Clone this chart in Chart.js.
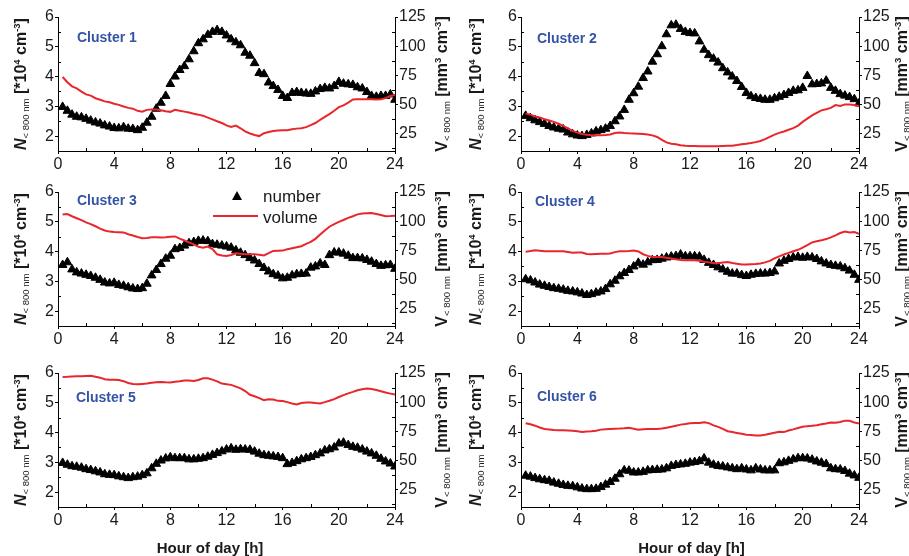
<!DOCTYPE html>
<html><head><meta charset="utf-8">
<script src="https://cdn.jsdelivr.net/npm/chart.js@4/dist/chart.umd.min.js"></script>
<style>
html,body{margin:0;padding:0;background:#fff;width:909px;height:556px;overflow:hidden;font-family:"Liberation Sans",Arial,sans-serif;}
#fig{position:relative;width:909px;height:556px;overflow:hidden;}
.cv{position:absolute;}
.lbl{position:absolute;white-space:nowrap;color:#1a1a1a;line-height:1;}
.ytitle{font-weight:bold;font-size:16px;transform:translate(-50%,-50%) rotate(-90deg);}
.ytitle sub,.ytitle sup{font-size:9.5px;line-height:1;}
.ytitle sub{font-weight:normal;vertical-align:-0.3em;}
.ytitle sup{vertical-align:0.6em;}
.cluster{font-weight:bold;font-size:14px;color:#3453a6;transform:translateY(-50%);}
.xtitle{font-weight:bold;font-size:15px;transform:translate(-50%,-50%);}
.leg{font-size:17px;transform:translateY(-50%);}
</style></head>
<body>
<div id="fig"></div>
<script>
// ---------- data ----------
const hours = [0.33,0.67,1,1.33,1.67,2, 2.33,2.67,3,3.33,3.67,4, 4.33,4.67,5,5.33,5.67,6,
  6.33,6.67,7,7.33,7.67,8, 8.33,8.67,9,9.33,9.67,10, 10.33,10.67,11,11.33,11.67,12,
  12.33,12.67,13,13.33,13.67,14, 14.33,14.67,15,15.33,15.67,16, 16.33,16.67,17,17.33,17.67,18,
  18.33,18.67,19,19.33,19.67,20, 20.33,20.67,21,21.33,21.67,22, 22.33,22.67,23,23.33,23.67,24];

const xTicks = [0,4,8,12,16,20,24];
const xMinor = [2,6,10,14,18,22];
const nTicks = [2,3,4,5,6];
const nMinor = [2.5,3.5,4.5,5.5];
const vTicks = [25,50,75,100,125];
const vMinor = [12.5,37.5,62.5,87.5,112.5];
const clusterNames = ["Cluster 1","Cluster 2","Cluster 3","Cluster 4","Cluster 5","Cluster 6"];
const seriesNames = ["number","volume"];

const c1Number = [2.98,2.85,2.72,2.65,2.63,2.58, 2.52,2.46,2.42,2.36,2.32,2.27, 2.26,2.3,2.25,2.24,2.2,2.28,
  2.45,2.65,2.92,3.12,3.35,3.75, 4.0,4.22,4.35,4.58,4.85,5.12, 5.25,5.4,5.5,5.56,5.5,5.38,
  5.25,5.15,5.05,4.8,4.7,4.45, 4.12,4.08,3.8,3.68,3.55,3.35, 3.28,3.45,3.48,3.45,3.43,3.42,
  3.5,3.58,3.62,3.6,3.68,3.82, 3.76,3.74,3.72,3.64,3.6,3.48, 3.35,3.32,3.35,3.35,3.4,3.22];
const c1Volume = [73.5,69,65.5,63.8,61,58.6, 57.5,55.3,54,52.6,51.8,50.6, 49.6,48.2,47,46.3,44.5,43.8,
  45.3,45.6,45.6,45,44.2,43.6, 45.4,44.5,43.8,43,42,41.2, 40.3,38.6,37.1,35.5,34,32,
  30.7,31.8,29.5,26.8,25,23.8, 22.8,25.3,26.3,27.1,27.6,27.9, 27.9,28.6,29.2,29.5,30.5,32.2,
  34,36.8,39.2,41.6,44.5,47.6, 49.2,51.5,54.2,54.5,54.5,54.5, 54.4,54.2,54.4,55.4,57.2,58];

const c2Number = [2.68,2.6,2.53,2.47,2.41,2.34, 2.29,2.25,2.22,2.12,2.06,2.02, 2.0,2.04,2.09,2.16,2.2,2.25,
  2.34,2.5,2.66,2.88,3.22,3.44, 3.66,3.95,4.17,4.5,4.75,5.02, 5.42,5.72,5.74,5.6,5.5,5.46,
  5.45,5.18,4.9,4.72,4.6,4.47, 4.28,4.14,4.0,3.85,3.65,3.45, 3.34,3.28,3.25,3.22,3.22,3.27,
  3.32,3.38,3.45,3.52,3.54,3.62, 4.02,3.74,3.75,3.77,3.86,3.62, 3.52,3.41,3.36,3.31,3.24,3.1];
const c2Volume = [42.2,41.2,39.6,38.8,37.2,36.1, 35,33.4,31.5,29.5,27.2,25.8, 24.6,24,23.5,23.5,23.5,23.8,
  24.2,25.4,25.9,25.5,25.2,25.1, 24.8,24.5,24.2,23.4,22,19.5, 17.4,16.3,15.8,15,14.5,14.3,
  14.2,14.1,14,14,14,14, 14.2,14.4,14.6,15.1,15.8,16.2, 16.8,17.6,18.6,20.2,22.2,24,
  25.6,26.8,28.2,29.6,31.8,35, 37.8,40.6,42.8,44.9,45.8,47, 49.4,48.6,50,50,49.4,48.3];

const c3Number = [3.55,3.64,3.4,3.3,3.26,3.22, 3.18,3.12,3.05,2.96,2.93,2.95, 2.88,2.85,2.8,2.76,2.74,2.77,
  2.92,3.2,3.38,3.58,3.76,3.86, 4.08,4.12,4.2,4.28,4.32,4.36, 4.37,4.35,4.25,4.23,4.2,4.17,
  4.13,4.04,3.96,3.88,3.78,3.7, 3.58,3.45,3.33,3.24,3.19,3.1, 3.12,3.2,3.24,3.25,3.26,3.46,
  3.5,3.6,3.55,3.88,3.97,3.97, 3.93,3.86,3.78,3.78,3.77,3.72, 3.66,3.58,3.52,3.54,3.55,3.42];
const c3Volume = [105.6,106.1,104.2,102.5,100.8,98.9, 97.4,95.6,93.6,92,91,90.6, 90.5,90.3,88.8,87.6,86.4,85.4,
  85.6,86.2,86.1,86,86.2,86.6, 86.9,85,83.4,81.8,80,78, 77.2,78.2,76,71.5,70.5,70,
  71,72.4,72,71.6,71.6,71.6, 71.2,70.6,72.5,74.4,74.6,74.7, 75.8,76.7,77.6,78.5,80.5,82.2,
  84.8,88.5,92,95.2,97.5,99.4, 101,102.8,104.2,105.8,106.5,106.8, 106.9,106.2,105.2,104.2,104.3,104.6];

const c4Number = [3.07,3.03,2.96,2.89,2.85,2.81, 2.77,2.75,2.72,2.68,2.66,2.63, 2.59,2.54,2.57,2.62,2.66,2.74,
  2.9,3.02,3.17,3.28,3.38,3.5, 3.62,3.56,3.64,3.71,3.72,3.76, 3.8,3.83,3.85,3.9,3.84,3.84,
  3.84,3.83,3.72,3.62,3.55,3.47, 3.4,3.32,3.26,3.26,3.21,3.18, 3.22,3.25,3.26,3.26,3.28,3.33,
  3.6,3.69,3.75,3.8,3.82,3.79, 3.82,3.8,3.75,3.67,3.6,3.55, 3.52,3.5,3.44,3.36,3.22,3.05];
const c4Volume = [73.8,74.3,74.9,74.5,74.1,74.1, 74.1,74.1,74.1,73.5,72.9,73, 73,71.8,71.6,71.8,72,72,
  72.3,73.4,74.1,74.2,74.4,74.8, 74,71.6,70.2,69.3,69.3,69.3, 68.6,68,67.3,66.6,66.5,66.5,
  66.5,66,65.2,64.6,63.9,63.8, 64.5,65,64,63.5,62.7,62.7, 63,63.2,63.7,64.6,65.9,68,
  69.8,71.4,72.8,74.2,75.4,77.2, 79.4,81.8,82.8,83.5,84.6,86, 87.8,89.8,91,90.2,90.6,89.2];

const c5Number = [2.98,2.92,2.87,2.85,2.82,2.77, 2.74,2.7,2.66,2.6,2.58,2.57, 2.53,2.5,2.47,2.5,2.52,2.57,
  2.63,2.8,2.95,3.06,3.13,3.17, 3.14,3.14,3.14,3.1,3.1,3.12, 3.14,3.19,3.25,3.31,3.37,3.43,
  3.47,3.42,3.44,3.43,3.42,3.36, 3.29,3.24,3.22,3.2,3.18,3.14, 2.94,2.98,3.04,3.1,3.14,3.18,
  3.24,3.3,3.4,3.44,3.5,3.63, 3.66,3.58,3.52,3.49,3.43,3.36, 3.3,3.22,3.12,3.03,2.96,2.86];
const c5Volume = [121.6,121.8,122.1,122.2,122.2,122.4, 122.6,121.8,121,119.6,119.3,119.3, 119,118,116.4,115.5,115.3,115.6,
  115.9,116.6,117.1,117.3,117,116.8, 117.4,117.9,118.5,118.5,118.1,119, 120.5,120.4,119.3,117.8,115.9,115.4,
  114.8,113.3,111.8,109.5,106.3,105, 103.5,101.7,102.4,102.3,101.1,100.9, 100,98.8,98,99.3,99.7,99.6,
  99.2,98.9,100,101.2,102.6,104.4, 106,107.5,108.8,110.2,111.1,111.6, 111.2,110.4,109.4,108.2,107.3,106.5];

const c6Number = [2.55,2.52,2.47,2.43,2.4,2.38, 2.32,2.28,2.24,2.21,2.2,2.16, 2.12,2.1,2.1,2.11,2.17,2.25,
  2.34,2.45,2.6,2.73,2.72,2.66, 2.66,2.68,2.73,2.74,2.75,2.76, 2.8,2.88,2.91,2.93,2.95,2.99,
  3.01,3.04,3.13,2.99,2.92,2.88, 2.86,2.83,2.8,2.77,2.8,2.76, 2.73,2.8,2.76,2.73,2.73,2.73,
  2.97,3.0,3.05,3.1,3.14,3.14, 3.13,3.09,3.03,2.99,2.94,2.8, 2.77,2.76,2.71,2.62,2.56,2.48];
const c6Volume = [81.9,81,79.8,78.2,77,76.6, 76,75.8,75.8,75.7,75.5,75, 74.4,74.7,75,75.4,76.4,76.8,
  77,77.2,77.3,77.5,77.9,77.2, 76.4,76.8,77,77,77,77.3, 78,78.9,79.8,80.7,81.2,81.8,
  82.1,82.1,82.8,82,80,78.8, 77,75,74.3,73.6,72.8,72.1, 71.8,71.3,71.4,72,72.9,73.8,
  74.6,74.3,75.6,76.6,77.8,78.8, 79.4,79.7,80.2,81,81.7,82.6, 82.4,83,84.1,84,82.5,81.6];

const numberSeries = [c1Number,c2Number,c3Number,c4Number,c5Number,c6Number];
const volumeSeries = [c1Volume,c2Volume,c3Volume,c4Volume,c5Volume,c6Volume];

// ---------- layout (pixel geometry, not data) ----------
const layout = [
  {cx:0,  cy:0,   cw:455, ch:175, L:58,  R:395, T:17,  B:151},
  {cx:455,cy:0,   cw:454, ch:175, L:521, R:859, T:17,  B:151},
  {cx:0,  cy:175, cw:455, ch:175, L:58,  R:395, T:192, B:326},
  {cx:455,cy:175, cw:454, ch:175, L:521, R:859, T:192, B:326},
  {cx:0,  cy:350, cw:455, ch:206, L:58,  R:395, T:373, B:507},
  {cx:455,cy:350, cw:454, ch:206, L:521, R:859, T:373, B:507}
];
const RED = '#e8262b';
const TXT = '#1a1a1a';
const tickFont = {family:'"Liberation Sans", Arial, sans-serif', size:16};

const minorTicks = {
  id:'minorTicks',
  afterDraw(chart){
    const {ctx, chartArea:a, scales} = chart;
    ctx.save(); ctx.strokeStyle='#000'; ctx.lineWidth=1; ctx.beginPath();
    xMinor.forEach(v=>{const x=Math.round(scales.x.getPixelForValue(v))+0.5; ctx.moveTo(x,a.bottom); ctx.lineTo(x,a.bottom-3);});
    nMinor.forEach(v=>{const y=Math.round(scales.y.getPixelForValue(v))+0.5; ctx.moveTo(a.left,y); ctx.lineTo(a.left+3,y);});
    vMinor.forEach(v=>{const y=Math.round(scales.y1.getPixelForValue(v))+0.5; ctx.moveTo(a.right,y); ctx.lineTo(a.right-3,y);});
    ctx.stroke(); ctx.restore();
  }
};

const fig = document.getElementById('fig');
function addLabel(html, cls, x, y){
  const d = document.createElement('div');
  d.className = 'lbl ' + cls; d.innerHTML = html;
  d.style.left = x + 'px'; d.style.top = y + 'px';
  fig.appendChild(d); return d;
}

layout.forEach((p, i) => {
  const c = document.createElement('canvas');
  c.className = 'cv'; c.width = p.cw; c.height = p.ch;
  c.style.left = p.cx + 'px'; c.style.top = p.cy + 'px';
  c.style.width = p.cw + 'px'; c.style.height = p.ch + 'px';
  fig.appendChild(c);
  const leftW = p.L - p.cx, rightW = p.cx + p.cw - p.R, botH = p.cy + p.ch - p.B, topPad = p.T - p.cy;
  const axisGrid = {drawOnChartArea:false, tickLength:3, color:'#000', tickColor:'#000', lineWidth:1};
  const axisBorder = {display:true, color:'#000', width:1};
  new Chart(c, {
    type:'line',
    data:{datasets:[
      {label:seriesNames[1], data:hours.map((h,k)=>({x:h,y:volumeSeries[i][k]})), yAxisID:'y1',
       borderColor:RED, backgroundColor:RED, borderWidth:2, pointRadius:0, fill:false, tension:0, order:0},
      {label:seriesNames[0], data:hours.map((h,k)=>({x:h,y:numberSeries[i][k]})), yAxisID:'y',
       showLine:false, pointStyle:'triangle', pointRadius:5, pointBackgroundColor:'#000',
       pointBorderColor:'#000', pointBorderWidth:1, order:1}
    ]},
    options:{
      responsive:false, animation:false, devicePixelRatio:1,
      layout:{padding:{top:topPad, left:0, right:0, bottom:0}},
      plugins:{legend:{display:false}, tooltip:{enabled:false}},
      scales:{
        x:{type:'linear', min:0, max:24,
           afterBuildTicks:s=>{s.ticks = xTicks.map(v=>({value:v}));},
           afterFit:s=>{s.height = botH;},
           ticks:{font:tickFont, color:TXT, padding:1, maxRotation:0, autoSkip:false},
           grid:axisGrid, border:axisBorder},
        y:{type:'linear', position:'left', min:1.5, max:6,
           afterBuildTicks:s=>{s.ticks = nTicks.map(v=>({value:v}));},
           afterFit:s=>{s.width = leftW;},
           ticks:{font:tickFont, color:TXT, padding:1},
           grid:axisGrid, border:axisBorder},
        y1:{type:'linear', position:'right', min:10, max:125,
           afterBuildTicks:s=>{s.ticks = vTicks.map(v=>({value:v}));},
           afterFit:s=>{s.width = rightW;},
           ticks:{font:tickFont, color:TXT, padding:1},
           grid:axisGrid, border:axisBorder}
      }
    },
    plugins:[minorTicks]
  });
});

// ---------- text ----------
const nTitle = '<i>N</i><sub>&lt; 800 nm</sub> [*10<sup>4</sup> cm<sup>-3</sup>]';
const vTitle = 'V<sub>&lt; 800 nm</sub> [mm<sup>3</sup> cm<sup>-3</sup>]';
const rowMid = [84, 259, 440];
[0,1,2].forEach(r=>{
  addLabel(nTitle,'ytitle',20.5,rowMid[r]);
  addLabel(vTitle,'ytitle',442,rowMid[r]);
  addLabel(nTitle,'ytitle',476,rowMid[r]);
  addLabel(vTitle,'ytitle',902,rowMid[r]);
});
const clusterPos = [[77,37],[537,38],[77,199.5],[535,200.5],[76,396.5],[537,395.5]];
clusterNames.forEach((n,i)=>addLabel(n,'cluster',clusterPos[i][0],clusterPos[i][1]));
addLabel('Hour of day [h]','xtitle',210,546.5);
addLabel('Hour of day [h]','xtitle',691.5,546.5);

// legend (in cluster 3 panel)
const tri = document.createElement('div');
tri.style.cssText = 'position:absolute;left:231.5px;top:191px;width:0;height:0;border-left:5.5px solid transparent;border-right:5.5px solid transparent;border-bottom:9.5px solid #000;';
fig.appendChild(tri);
const ln = document.createElement('div');
ln.style.cssText = 'position:absolute;left:213px;top:215px;width:45px;height:2px;background:'+RED+';';
fig.appendChild(ln);
addLabel(seriesNames[0],'leg',263,196);
addLabel(seriesNames[1],'leg',263,216.5);
</script>
</body></html>
